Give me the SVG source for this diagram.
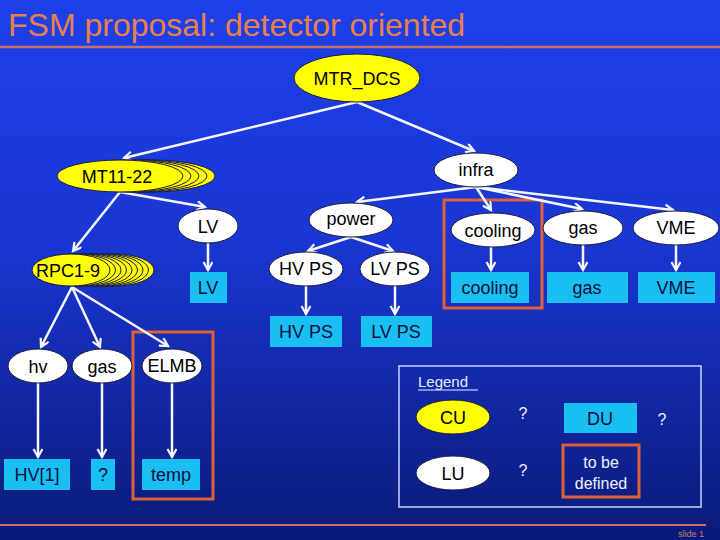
<svg xmlns="http://www.w3.org/2000/svg" width="720" height="540" viewBox="0 0 720 540">
<defs>
<linearGradient id="bg" x1="0" y1="0" x2="0" y2="1">
<stop offset="0" stop-color="#1e40ea"/>
<stop offset="0.45" stop-color="#1a36d2"/>
<stop offset="1" stop-color="#0a1a78"/>
</linearGradient>
<marker id="ah" markerUnits="userSpaceOnUse" markerWidth="14" markerHeight="14" refX="9" refY="5" orient="auto">
<path d="M1,0.5 L9,5 L1,9.5" fill="none" stroke="#f4f6ff" stroke-width="2.2" stroke-linejoin="miter"/>
</marker>
<style>
text{font-family:"Liberation Sans",Arial,sans-serif}
.cu{fill:#ffff00;stroke:#1a1a40;stroke-width:1}
.lu{fill:#ffffff;stroke:#1a1a40;stroke-width:1}
.du{fill:#19bff0}
.t{font-size:18px;fill:#000;text-anchor:middle;dominant-baseline:central}
.td{font-size:18px;fill:#0a1040;text-anchor:middle;dominant-baseline:central}
.or{fill:none;stroke:#e0603a;stroke-width:3}
.c line{stroke:#f4f6ff;stroke-width:2.5;marker-end:url(#ah)}
.w{fill:#eef2ff;font-size:16px;text-anchor:middle;dominant-baseline:central}
</style>
</defs>
<rect width="720" height="540" fill="url(#bg)"/>
<text x="8" y="36" font-size="32" fill="#ea8048">FSM proposal: detector oriented</text>
<line x1="0" y1="47" x2="720" y2="47" stroke="#cc706c" stroke-width="2.5"/>
<line x1="0" y1="525" x2="706" y2="525" stroke="#cc706c" stroke-width="2"/>
<text x="704" y="537" font-size="9" fill="#cc7a6c" text-anchor="end">slide 1</text>

<rect class="or" x="444" y="200" width="98" height="108"/>
<rect class="or" x="133" y="332" width="80" height="167"/>

<g class="c" id="connectors">
<line x1="357" y1="102" x2="124" y2="158"/>
<line x1="357" y1="102" x2="474" y2="151"/>
<line x1="120" y1="192" x2="73" y2="251"/>
<line x1="120" y1="192" x2="205" y2="207"/>
<line x1="208" y1="243" x2="208" y2="270"/>
<line x1="476" y1="187" x2="357" y2="202"/>
<line x1="476" y1="187" x2="491" y2="210"/>
<line x1="476" y1="187" x2="582" y2="209"/>
<line x1="476" y1="187" x2="673" y2="210"/>
<line x1="351" y1="237" x2="308" y2="251"/>
<line x1="351" y1="237" x2="393" y2="251"/>
<line x1="306" y1="286" x2="306" y2="314"/>
<line x1="395" y1="286" x2="395" y2="314"/>
<line x1="491" y1="247" x2="491" y2="270"/>
<line x1="583" y1="245" x2="583" y2="270"/>
<line x1="676" y1="245" x2="676" y2="270"/>
<line x1="72" y1="287" x2="41" y2="347"/>
<line x1="72" y1="287" x2="100" y2="347"/>
<line x1="72" y1="287" x2="168" y2="346"/>
<line x1="38" y1="383" x2="38" y2="457"/>
<line x1="102" y1="383" x2="102" y2="457"/>
<line x1="172" y1="383" x2="172" y2="457"/>
</g>

<g id="MTR_DCS"><ellipse class="cu" cx="357" cy="78" rx="63" ry="24"/><text class="t" x="357" y="79">MTR_DCS</text></g>
<g id="infra"><ellipse class="lu" cx="476" cy="170" rx="42" ry="17"/><text class="t" x="476" y="170">infra</text></g>
<g id="MT11-22">
<ellipse class="cu" cx="152" cy="176" rx="63" ry="16"/>
<ellipse class="cu" cx="144" cy="176" rx="63" ry="16"/>
<ellipse class="cu" cx="136" cy="176" rx="63" ry="16"/>
<ellipse class="cu" cx="128" cy="176" rx="63" ry="16"/>
<ellipse class="cu" cx="120" cy="176" rx="63" ry="16"/>
<text class="t" x="117" y="177">MT11-22</text>
</g>
<g id="LV"><ellipse class="lu" cx="208" cy="226" rx="30" ry="17"/><text class="t" x="208" y="227">LV</text></g>
<g id="LV-du"><rect class="du" x="190" y="272" width="37" height="31"/><text class="td" x="208" y="288">LV</text></g>
<g id="RPC1-9">
<ellipse class="cu" cx="115" cy="270" rx="39" ry="16"/>
<ellipse class="cu" cx="109.5" cy="270" rx="39" ry="16"/>
<ellipse class="cu" cx="104" cy="270" rx="39" ry="16"/>
<ellipse class="cu" cx="98.5" cy="270" rx="39" ry="16"/>
<ellipse class="cu" cx="93" cy="270" rx="39" ry="16"/>
<ellipse class="cu" cx="87.5" cy="270" rx="39" ry="16"/>
<ellipse class="cu" cx="82" cy="270" rx="39" ry="16"/>
<ellipse class="cu" cx="76.5" cy="270" rx="39" ry="16"/>
<ellipse class="cu" cx="71" cy="270" rx="39" ry="16"/>
<text class="t" x="68" y="271">RPC1-9</text>
</g>
<g id="power"><ellipse class="lu" cx="351" cy="220" rx="42" ry="17"/><text class="t" x="351" y="219">power</text></g>
<g id="HVPS"><ellipse class="lu" cx="306" cy="269" rx="37" ry="17"/><text class="t" x="306" y="269">HV PS</text></g>
<g id="LVPS"><ellipse class="lu" cx="395" cy="269" rx="35" ry="17"/><text class="t" x="395" y="269">LV PS</text></g>
<g id="HVPS-du"><rect class="du" x="270" y="316" width="72" height="31"/><text class="td" x="306" y="332">HV PS</text></g>
<g id="LVPS-du"><rect class="du" x="361" y="316" width="71" height="31"/><text class="td" x="396" y="332">LV PS</text></g>
<g id="cooling"><ellipse class="lu" cx="493" cy="230" rx="42" ry="17"/><text class="t" x="493" y="231">cooling</text></g>
<g id="gas"><ellipse class="lu" cx="583" cy="228" rx="40" ry="17"/><text class="t" x="583" y="228">gas</text></g>
<g id="VME"><ellipse class="lu" cx="676" cy="228" rx="43" ry="17"/><text class="t" x="676" y="228">VME</text></g>
<g id="cooling-du"><rect class="du" x="451" y="272" width="78" height="31"/><text class="td" x="490" y="288">cooling</text></g>
<g id="gas-du"><rect class="du" x="547" y="272" width="81" height="31"/><text class="td" x="587" y="288">gas</text></g>
<g id="VME-du"><rect class="du" x="638" y="272" width="77" height="31"/><text class="td" x="676" y="288">VME</text></g>
<g id="hv"><ellipse class="lu" cx="38" cy="366" rx="30" ry="17"/><text class="t" x="38" y="367">hv</text></g>
<g id="gas2"><ellipse class="lu" cx="102" cy="366" rx="30" ry="17"/><text class="t" x="102" y="367">gas</text></g>
<g id="ELMB"><ellipse class="lu" cx="172" cy="366" rx="30" ry="17"/><text class="t" x="172" y="366">ELMB</text></g>
<g id="HV1"><rect class="du" x="4" y="459" width="66" height="31"/><text class="td" x="37" y="475">HV[1]</text></g>
<g id="q"><rect class="du" x="91" y="459" width="24" height="31"/><text class="td" x="103" y="475">?</text></g>
<g id="temp"><rect class="du" x="142" y="459" width="58" height="31"/><text class="td" x="171" y="475">temp</text></g>

<g id="legend">
<rect x="399" y="366" width="302" height="141" fill="none" stroke="#c8d4ff" stroke-width="1.5"/>
<text x="418" y="387" font-size="15" fill="#e4ecff">Legend</text>
<line x1="418" y1="390" x2="478" y2="390" stroke="#e4ecff" stroke-width="1"/>
<ellipse class="cu" cx="453" cy="417" rx="37" ry="17"/><text class="t" x="453" y="418">CU</text>
<ellipse class="lu" cx="453" cy="473" rx="37" ry="17"/><text class="t" x="453" y="474">LU</text>
<rect class="du" x="564" y="403" width="73" height="30"/><text class="td" x="600" y="419">DU</text>
<rect x="563" y="445" width="76" height="52" fill="none" stroke="#e0603a" stroke-width="3"/>
<text class="w" x="601" y="462">to be</text>
<text class="w" x="601" y="483">defined</text>
<text class="w" x="523" y="413">?</text>
<text class="w" x="662" y="419">?</text>
<text class="w" x="523" y="470">?</text>
</g>
</svg>
